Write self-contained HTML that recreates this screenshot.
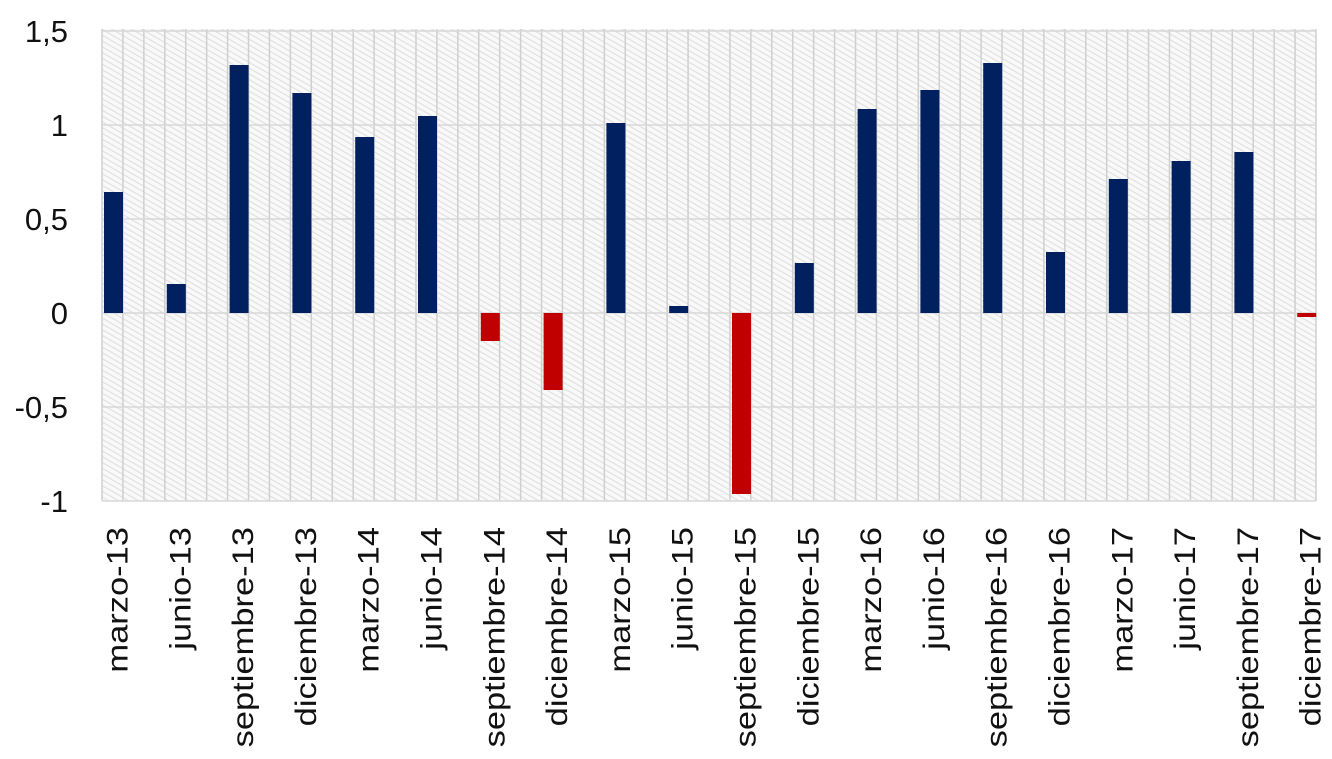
<!DOCTYPE html>
<html><head><meta charset="utf-8"><style>
html,body{margin:0;padding:0;background:#fff;}
svg{display:block;}
text{font-family:"Liberation Sans",sans-serif;fill:#111;}
</style></head><body>
<svg width="1332" height="759" viewBox="0 0 1332 759" xmlns="http://www.w3.org/2000/svg">
<defs>
<pattern id="h" width="5" height="5" patternUnits="userSpaceOnUse" patternTransform="rotate(-60)">
<rect width="5" height="5" fill="#f9f9f9"/>
<rect width="1.2" height="5" fill="#e0e0e0"/>
</pattern>
</defs>
<rect x="102" y="29" width="1214" height="472" fill="url(#h)"/>
<g id="vg" stroke="#cfcfcf" stroke-width="1.5"></g>
<g stroke="#d8d8d8" stroke-width="1.5">
<line x1="102" x2="1316" y1="31" y2="31"/><line x1="102" x2="1316" y1="125" y2="125"/>
<line x1="102" x2="1316" y1="219" y2="219"/><line x1="102" x2="1316" y1="313" y2="313"/>
<line x1="102" x2="1316" y1="407" y2="407"/><line x1="102" x2="1316" y1="501" y2="501"/>
</g>
<g id="bars"></g>
<g font-size="31" text-anchor="end">
<text x="68" y="42">1,5</text><text x="68" y="136">1</text><text x="68" y="230">0,5</text>
<text x="68" y="324">0</text><text x="68" y="418">-0,5</text><text x="68" y="512">-1</text>
</g>
<g id="lbl" font-size="30" text-anchor="end"></g>
</svg>
<script>
var ns="http://www.w3.org/2000/svg";
var vg=document.getElementById('vg');
for(var i=0;i<=58;i++){var x=102+i*1214/58;var l=document.createElementNS(ns,'line');l.setAttribute('x1',x);l.setAttribute('x2',x);l.setAttribute('y1',29);l.setAttribute('y2',501);vg.appendChild(l);}
var tops=[192,284,65,93,137,116,341,390,123,306,494,263,109,90,63,252,179,161,152,317];
var neg=[6,7,10,19];
var names=["marzo-13","junio-13","septiembre-13","diciembre-13","marzo-14","junio-14","septiembre-14","diciembre-14","marzo-15","junio-15","septiembre-15","diciembre-15","marzo-16","junio-16","septiembre-16","diciembre-16","marzo-17","junio-17","septiembre-17","diciembre-17"];
var b=document.getElementById('bars'),lb=document.getElementById('lbl');
for(var i=0;i<20;i++){
 var x=104+62.8*i;var r=document.createElementNS(ns,'rect');
 var t=tops[i];var isn=neg.indexOf(i)>=0;
 r.setAttribute('x',x);r.setAttribute('width',19);
 if(isn){r.setAttribute('y',313);r.setAttribute('height',t-313);r.setAttribute('fill','#c00000');}
 else{r.setAttribute('y',t);r.setAttribute('height',313-t);r.setAttribute('fill','#002060');}
 b.appendChild(r);
 var tx=document.createElementNS(ns,'text');var cx=x+9.5+14;
 tx.setAttribute('transform','translate('+cx+',527) rotate(-90) scale(1.15,1)');
 tx.textContent=names[i];lb.appendChild(tx);
}
</script>
</body></html>
